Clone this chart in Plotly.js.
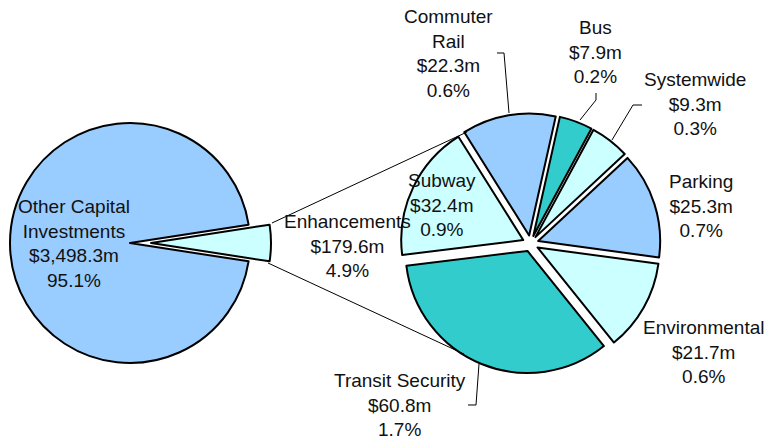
<!DOCTYPE html>
<html lang="en">
<head>
    <meta charset="UTF-8">
    <title>Capital Investments - Enhancements Breakdown</title>
    <script src="https://cdn.plot.ly/plotly-3.0.1.min.js"></script>
    <style>
        body { margin: 0; background-color: white; }
        #chart { width: 781px; height: 440px; }
    </style>
</head>
<body>
    <div id="chart"></div>

    <script>
        // Overall capital program split
        const overviewLabels = ['Other Capital Investments', 'Enhancements'];
        const overviewValues = [3498.3, 179.6];

        // Breakdown of the enhancements slice
        const enhancementLabels = ['Subway', 'Commuter Rail', 'Bus', 'Systemwide',
                                   'Parking', 'Environmental', 'Transit Security'];
        const enhancementValues = [32.4, 22.3, 7.9, 9.3, 25.3, 21.7, 60.8];

        const grandTotal = overviewValues.reduce((a, b) => a + b, 0);

        const W = 781, H = 440;
        const px = x => x / W;
        const py = y => 1 - y / H;

        const LIGHT_BLUE = '#99CCFF', PALE_CYAN = '#CCFFFF', TEAL = '#33CCCC';
        const CLEAR = 'rgba(0,0,0,0)';

        // pixel geometry of the two pies
        const leftCx = 130, leftCy = 243, leftR = 120, enhShift = 21;
        const rightCx = 530.5, rightCy = 243.5, rightR = 122, rightPull = 0.066;
        const rightBox = rightR * (2 + 2 * rightPull);

        function domainFor(cx, cy, size) {
            return {
                x: [px(cx - size / 2), px(cx + size / 2)],
                y: [py(cy + size / 2), py(cy - size / 2)]
            };
        }

        // Enhancements slice centered on 3 o'clock
        const leftRotation = 90 + 180 * overviewValues[1] / grandTotal;

        const pieBase = {
            type: 'pie',
            sort: false,
            direction: 'clockwise',
            textinfo: 'none',
            showlegend: false,
            hoverinfo: 'label+value+percent'
        };

        const data = [
            // big pie with a notch where Enhancements was taken out
            Object.assign({}, pieBase, {
                labels: overviewLabels,
                values: overviewValues,
                rotation: leftRotation,
                domain: domainFor(leftCx, leftCy, leftR * 2),
                marker: { colors: [LIGHT_BLUE, CLEAR], line: { color: 'black', width: [2, 0] } }
            }),
            // the pulled-out Enhancements wedge
            Object.assign({}, pieBase, {
                labels: overviewLabels,
                values: overviewValues,
                rotation: leftRotation,
                domain: domainFor(leftCx + enhShift, leftCy, leftR * 2),
                marker: { colors: [CLEAR, PALE_CYAN], line: { color: 'black', width: [0, 2] } }
            }),
            // exploded breakdown pie
            Object.assign({}, pieBase, {
                labels: enhancementLabels,
                values: enhancementValues,
                rotation: 263,
                pull: enhancementLabels.map(() => rightPull),
                domain: domainFor(rightCx, rightCy, rightBox),
                marker: {
                    colors: [PALE_CYAN, LIGHT_BLUE, TEAL, PALE_CYAN, LIGHT_BLUE, PALE_CYAN, TEAL],
                    line: { color: 'black', width: 2 }
                }
            })
        ];

        // label placement (pixel centers of text blocks)
        const labelPos = {
            'Other Capital Investments': [74, 243],
            'Enhancements': [347, 246],
            'Subway': [442, 205],
            'Commuter Rail': [449, 54],
            'Bus': [595, 52],
            'Systemwide': [695, 104],
            'Parking': [701, 206],
            'Environmental': [703, 352],
            'Transit Security': [400, 405]
        };
        const wrapped = {
            'Other Capital Investments': 'Other Capital<br>Investments',
            'Commuter Rail': 'Commuter<br>Rail'
        };

        function labelText(name, value) {
            const money = value.toLocaleString('en-US', { minimumFractionDigits: 1, maximumFractionDigits: 1 });
            const pct = (100 * value / grandTotal).toFixed(1);
            return (wrapped[name] || name) + '<br>$' + money + 'm<br>' + pct + '%';
        }

        const annotations = [];
        overviewLabels.concat(enhancementLabels).forEach((name, i) => {
            const value = i < overviewLabels.length ? overviewValues[i] : enhancementValues[i - overviewLabels.length];
            const p = labelPos[name];
            annotations.push({
                text: labelText(name, value),
                x: px(p[0]), y: py(p[1]),
                xref: 'paper', yref: 'paper',
                xanchor: 'center', yanchor: 'middle',
                showarrow: false
            });
        });

        function pathOf(points) {
            return points.map((p, i) => (i ? 'L' : 'M') + px(p[0]).toFixed(5) + ',' + py(p[1]).toFixed(5)).join(' ');
        }
        const thin = { color: 'black', width: 1 };
        const shapes = [
            // connectors between the pies
            { type: 'path', xref: 'paper', yref: 'paper', path: pathOf([[272, 223], [467, 132]]), line: thin },
            { type: 'path', xref: 'paper', yref: 'paper', path: pathOf([[268, 263], [464, 354]]), line: thin },
            // leader lines
            { type: 'path', xref: 'paper', yref: 'paper', path: pathOf([[497, 53], [504, 53], [509, 113]]), line: thin },
            { type: 'path', xref: 'paper', yref: 'paper', path: pathOf([[596, 93], [596, 100], [580, 120]]), line: thin },
            { type: 'path', xref: 'paper', yref: 'paper', path: pathOf([[642, 105], [633, 105], [612, 140]]), line: thin },
            { type: 'path', xref: 'paper', yref: 'paper', path: pathOf([[468, 405], [476, 405], [479, 364]]), line: thin }
        ];

        const layout = {
            width: W,
            height: H,
            margin: { l: 0, r: 0, t: 0, b: 0 },
            paper_bgcolor: 'white',
            font: { family: '"Liberation Sans", Arial, sans-serif', size: 19, color: '#111' },
            annotations: annotations,
            shapes: shapes
        };

        Plotly.newPlot('chart', data, layout, { displayModeBar: false, staticPlot: true });
    </script>
</body>
</html>
